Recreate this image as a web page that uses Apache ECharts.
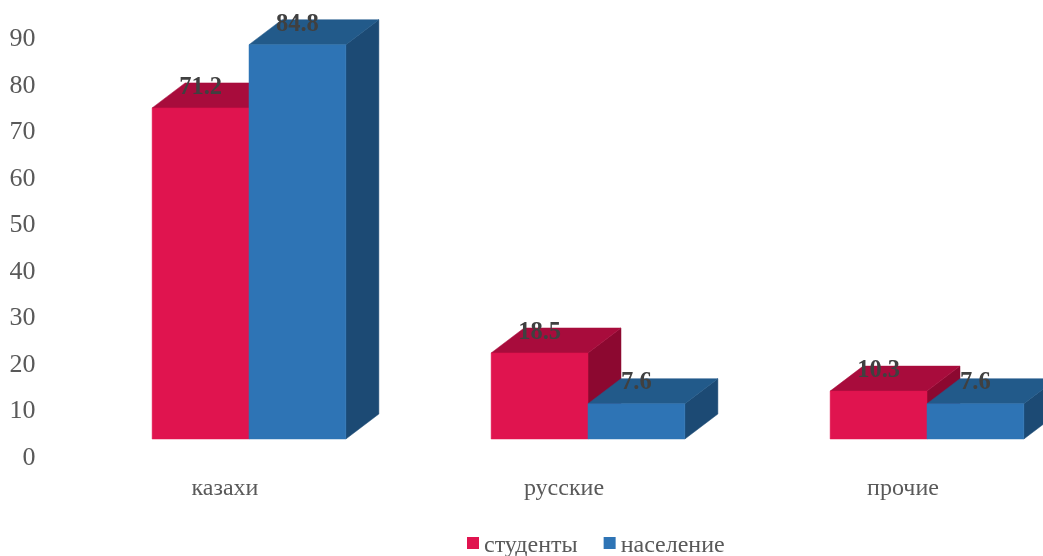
<!DOCTYPE html>
<html>
<head>
<meta charset="utf-8">
<style>html,body{margin:0;padding:0;background:#fff;overflow:hidden}#c{width:1043px;height:556px}</style>
<script src="https://cdn.jsdelivr.net/npm/echarts@6/dist/echarts.min.js"></script>
</head>
<body>
<div id="c"></div>
<script>
const categories = ['казахи', 'русские', 'прочие'];
const students = [71.2, 18.5, 10.3];
const population = [84.8, 7.6, 7.6];
const nameStudents = 'студенты';
const namePopulation = 'население';

const FONT = '"Liberation Serif","Times New Roman",serif';
const SHIFT_X = 24, SHIFT_Y = -19, DEPTH_X = 33, DEPTH_Y = -25;

function bar3d(side, colors) {
  return function (params, api) {
    const cat = api.value(0), val = api.value(1);
    const base = api.coord([cat, 0]);
    const top = api.coord([cat, val]);
    const w = api.size([1, 0])[0] / 3.5;
    const x0 = base[0] + SHIFT_X + (side < 0 ? -w : 0);
    const x1 = x0 + w;
    const y0 = base[1] + SHIFT_Y;
    const y1 = top[1] + SHIFT_Y;
    const dx = DEPTH_X, dy = DEPTH_Y;
    const poly = (points, fill) => ({
      type: 'polygon',
      shape: { points },
      style: { fill, stroke: fill, lineWidth: 0.5 }
    });
    return {
      type: 'group',
      children: [
        poly([[x1, y0], [x1 + dx, y0 + dy], [x1 + dx, y1 + dy], [x1, y1]], colors.side),
        poly([[x0, y1], [x0 + dx, y1 + dy], [x1 + dx, y1 + dy], [x1, y1]], colors.top),
        poly([[x0, y0], [x1, y0], [x1, y1], [x0, y1]], colors.front),
        {
          type: 'text',
          z2: 10,
          style: {
            text: String(val),
            x: (x0 + x1) / 2,
            y: y1 + dy + 4.5,
            align: 'center',
            verticalAlign: 'middle',
            fill: '#404040',
            font: 'bold 24.5px ' + FONT
          }
        }
      ]
    };
  };
}

const chart = echarts.init(document.getElementById('c'), null, { renderer: 'canvas' });
chart.setOption({
  animation: false,
  backgroundColor: '#fff',
  grid: { left: 55.5, top: 39.5, height: 418.5, width: 1017, outerBoundsMode: 'none' },
  legend: {
    left: 462,
    top: 529,
    itemWidth: 12,
    itemHeight: 18,
    itemGap: 26,
    icon: 'path://M0 0H12V12H0Z M0 18H12V18H0Z',
    textStyle: { fontFamily: FONT, fontSize: 24, color: '#595959' },
    data: [nameStudents, namePopulation]
  },
  xAxis: {
    type: 'category',
    data: categories,
    axisLine: { show: false },
    axisTick: { show: false },
    axisLabel: { margin: 19, fontFamily: FONT, fontSize: 24, color: '#595959' }
  },
  yAxis: {
    type: 'value',
    min: 0,
    max: 90,
    interval: 10,
    axisLine: { show: false },
    axisTick: { show: false },
    splitLine: { show: false },
    axisLabel: { margin: 20, fontFamily: FONT, fontSize: 26, color: '#595959' }
  },
  series: [
    {
      name: nameStudents,
      type: 'custom',
      clip: false,
      itemStyle: { color: '#E0144F' },
      encode: { x: 0, y: 1 },
      data: students.map((v, i) => [i, v]),
      renderItem: bar3d(-1, { front: '#E0144F', top: '#A80C3C', side: '#8C0830' })
    },
    {
      name: namePopulation,
      type: 'custom',
      clip: false,
      itemStyle: { color: '#2E74B5' },
      encode: { x: 0, y: 1 },
      data: population.map((v, i) => [i, v]),
      renderItem: bar3d(1, { front: '#2E74B5', top: '#225A8A', side: '#1C4A74' })
    }
  ]
});
</script>
</body>
</html>
